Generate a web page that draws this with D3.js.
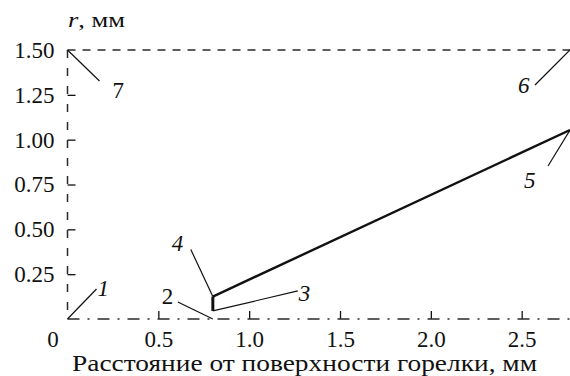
<!DOCTYPE html>
<html>
<head>
<meta charset="utf-8">
<script src="https://cdn.jsdelivr.net/npm/d3@7"></script>
<style>
  html, body { margin: 0; padding: 0; background: #fff; }
  svg { display: block; font-family: "Liberation Serif", "Times New Roman", serif; }
</style>
</head>
<body>
<svg id="chart" width="570" height="376"></svg>
<script>
// Flame radius r versus distance from the burner surface
const xTicks = [0, 0.5, 1.0, 1.5, 2.0, 2.5];
const xTickLabels = ["0", "0.5", "1.0", "1.5", "2.0", "2.5"];
const yTicks = [0.25, 0.50, 0.75, 1.00, 1.25, 1.50];
const yTickLabels = ["0.25", "0.50", "0.75", "1.00", "1.25", "1.50"];

// curve 5: front radius growing with distance
const frontX = [0.8, 2.766];
const frontR = [0.125, 1.054];
// step at the front base (between curves 3 and 4)
const stepX = [0.8, 0.8];
const stepR = [0.045, 0.125];
// curve 6: upper boundary r = 1.5; curve 7: burner surface x = 0
const boundaryR = 1.5;
const surfaceX = 0;

// numbered curve markers: anchor point (data) and label text
const markerNames = ["1", "2", "3", "4", "5", "6", "7"];
const markerX = [0, 0.8, 0.8, 0.8, 2.766, 2.766, 0];
const markerR = [0, 0, 0.045, 0.125, 1.054, 1.5, 1.5];

const W = 570, H = 376;
const svg = d3.select("#chart");
const serif = '"Liberation Serif", "Times New Roman", serif';

const x = d3.scaleLinear().domain([0, 2.766]).range([67.5, 570]);
const y = d3.scaleLinear().domain([0, 1.5]).range([319, 50]);

const ink = "#111";
const dashInk = "#2a2a2a";

// x axis ticks and labels
const gx = svg.append("g")
  .attr("transform", `translate(0,${y(0)})`)
  .call(d3.axisBottom(x).tickValues(xTicks)
    .tickFormat((d, i) => xTickLabels[i])
    .tickSize(-8).tickPadding(12));
gx.attr("font-family", serif).attr("font-size", 23);
gx.select(".domain").remove();
gx.selectAll(".tick line").attr("stroke", ink).attr("stroke-width", 1.3)
  .attr("display", d => d === 0 ? "none" : null);
gx.selectAll(".tick text")
  .attr("fill", ink)
  .attr("dx", d => d === 0 ? -15 : 0);

// y axis ticks and labels
const gy = svg.append("g")
  .attr("transform", `translate(${x(0)},0)`)
  .call(d3.axisLeft(y).tickValues(yTicks)
    .tickFormat((d, i) => yTickLabels[i])
    .tickSize(-8).tickPadding(13));
gy.attr("font-family", serif).attr("font-size", 23);
gy.select(".domain").remove();
gy.selectAll(".tick line").attr("stroke", ink).attr("stroke-width", 1.3)
  .attr("display", d => d === 1.5 ? "none" : null);
gy.selectAll(".tick text").attr("fill", ink);

// axis line r = 0 (dash-dot)
svg.append("line")
  .attr("x1", x(0)).attr("x2", x(2.766))
  .attr("y1", y(0)).attr("y2", y(0))
  .attr("stroke", dashInk).attr("stroke-width", 1.5)
  .attr("stroke-dasharray", "12,8,2,8");

// curve 7: burner surface (dashed vertical)
svg.append("line")
  .attr("x1", x(surfaceX)).attr("x2", x(surfaceX))
  .attr("y1", y(boundaryR)).attr("y2", y(0))
  .attr("stroke", dashInk).attr("stroke-width", 1.5)
  .attr("stroke-dasharray", "8,10");

// curve 6: upper boundary (dashed horizontal)
svg.append("line")
  .attr("x1", x(surfaceX)).attr("x2", x(2.766))
  .attr("y1", y(boundaryR)).attr("y2", y(boundaryR))
  .attr("stroke", dashInk).attr("stroke-width", 1.5)
  .attr("stroke-dasharray", "8,7");

// curve 5: front
const line = d3.line().x(d => x(d[0])).y(d => y(d[1]));
svg.append("path")
  .datum(frontX.map((v, i) => [v, frontR[i]]))
  .attr("d", line)
  .attr("fill", "none").attr("stroke", ink).attr("stroke-width", 2.4);

// step at the front base
svg.append("path")
  .datum(stepX.map((v, i) => [v, stepR[i]]))
  .attr("d", line)
  .attr("fill", "none").attr("stroke", ink).attr("stroke-width", 3);

// leader lines and curve numbers (offsets in px from anchor)
const leaderDx = [29, -35, 85, -22, -22, -35, 32];
const leaderDy = [-30, -17, -20, -47, 36, 35, 31];
const textDx = [30, -51, 86, -41, -46, -52, 45];
const textDy = [-23, -15, -10, -46, 58, 43, 48];
const italic = [true, false, true, true, true, true, false];

markerNames.forEach((name, i) => {
  const ax = x(markerX[i]), ay = y(markerR[i]);
  svg.append("line")
    .attr("x1", ax).attr("y1", ay)
    .attr("x2", ax + leaderDx[i]).attr("y2", ay + leaderDy[i])
    .attr("stroke", ink).attr("stroke-width", 1.2);
  svg.append("text")
    .attr("x", ax + textDx[i]).attr("y", ay + textDy[i])
    .attr("font-size", 23)
    .attr("font-style", italic[i] ? "italic" : "normal")
    .attr("fill", ink)
    .text(name);
});

// axis titles
const yt = svg.append("text")
  .attr("x", 68).attr("y", 27)
  .attr("font-size", 22).attr("fill", ink)
  .attr("textLength", 57).attr("lengthAdjust", "spacingAndGlyphs");
yt.append("tspan").attr("font-style", "italic").text("r");
yt.append("tspan").text(", мм");

svg.append("text")
  .attr("x", 72).attr("y", 371)
  .attr("font-size", 23).attr("fill", ink)
  .attr("textLength", 465).attr("lengthAdjust", "spacingAndGlyphs")
  .text("Расстояние от поверхности горелки, мм");
</script>
</body>
</html>
